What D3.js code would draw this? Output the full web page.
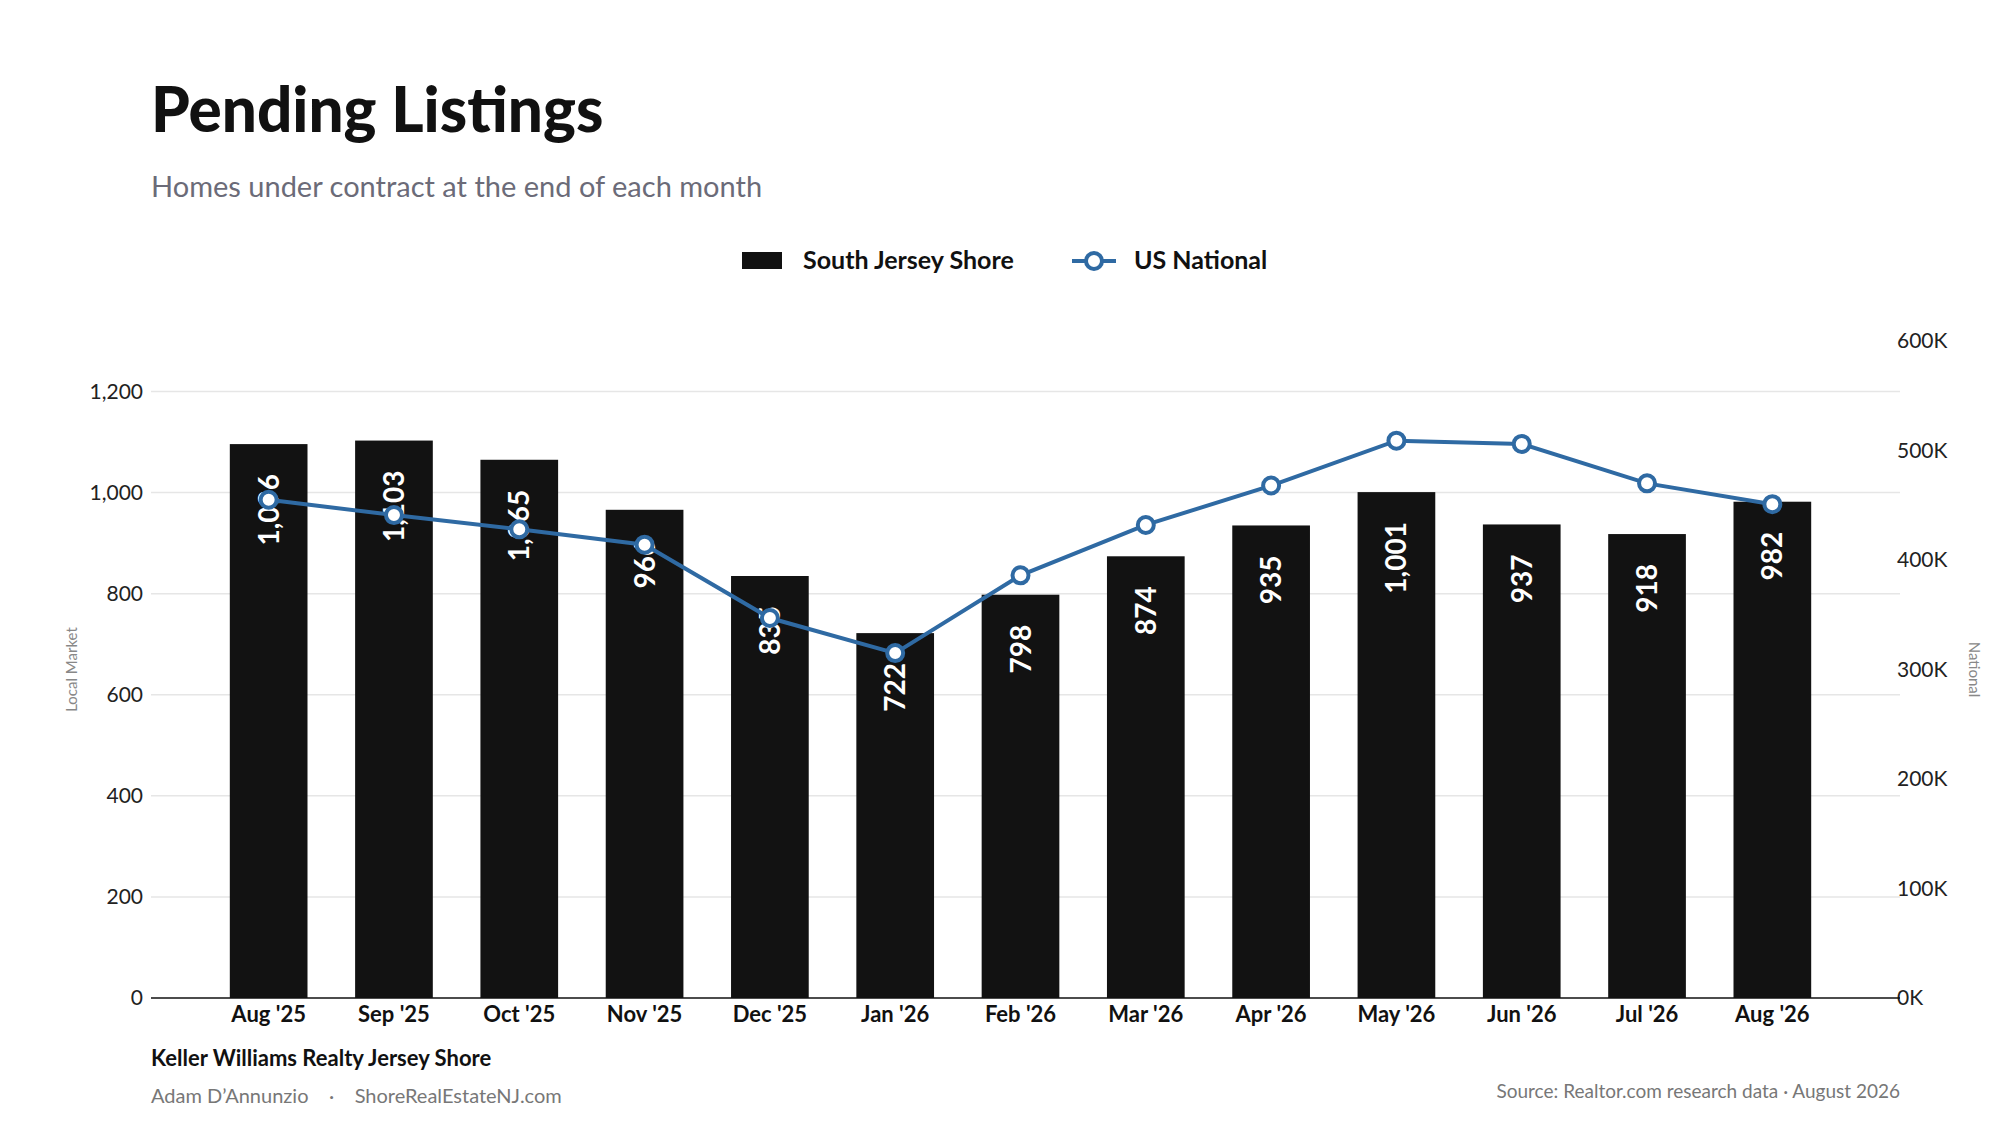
<!DOCTYPE html>
<html><head><meta charset="utf-8">
<script src="https://cdn.jsdelivr.net/npm/d3@7"></script>
<style>body{margin:0;background:#fff}text{font-family:"Lato","Open Sans",sans-serif}</style>
</head><body><svg id="c" width="2000" height="1125"></svg>
<script>
const months=["Aug '25","Sep '25","Oct '25","Nov '25","Dec '25","Jan '26","Feb '26","Mar '26","Apr '26","May '26","Jun '26","Jul '26","Aug '26"];
const local=[1096,1103,1065,966,835,722,798,874,935,1001,937,918,982];
const national=[455000,441000,428000,414000,347000,315000,386000,432000,468000,509000,506000,470000,451000];
const leftTicks=[0,200,400,600,800,1000,1200];
const rightTicks=[0,100000,200000,300000,400000,500000,600000];

const svg=d3.select("#c");
const L=151,R=1900,T=341,B=998;
const x=d3.scaleBand().domain(months).range([206,1835]).paddingInner(0.38).paddingOuter(0.19);
const yL=d3.scaleLinear().domain([0,1300]).range([B,T]);
const yR=d3.scaleLinear().domain([0,600000]).range([B,T]);
const blue="#2f6aa3";

svg.append("text").attr("x",151).attr("y",132).attr("font-size",62).attr("font-weight",900).attr("fill","#111").text("Pending Listings");
svg.append("text").attr("x",151).attr("y",197).attr("font-size",29).attr("fill","#6b6b78").text("Homes under contract at the end of each month");

// legend
svg.append("rect").attr("x",742).attr("y",252).attr("width",40).attr("height",17).attr("fill","#111");
svg.append("text").attr("x",803).attr("y",269).attr("font-size",25).attr("font-weight",700).attr("fill","#111").text("South Jersey Shore");
svg.append("line").attr("x1",1072).attr("x2",1116).attr("y1",261).attr("y2",261).attr("stroke",blue).attr("stroke-width",4);
svg.append("circle").attr("cx",1094).attr("cy",261).attr("r",8).attr("fill","#fff").attr("stroke",blue).attr("stroke-width",4);
svg.append("text").attr("x",1134).attr("y",269).attr("font-size",25).attr("font-weight",700).attr("fill","#111").text("US National");

// grid
svg.append("g").selectAll("line").data(leftTicks.slice(1)).join("line")
 .attr("x1",L).attr("x2",R).attr("y1",d=>yL(d)).attr("y2",d=>yL(d)).attr("stroke","#e6e6e6").attr("stroke-width",1.5);

// axes
const ga=svg.append("g").attr("transform",`translate(${L},0)`).call(d3.axisLeft(yL).tickValues(leftTicks).tickFormat(d3.format(",")).tickSize(0).tickPadding(8));
ga.select(".domain").remove();
ga.selectAll("text").attr("font-size",21).attr("fill","#222");
const gr=svg.append("g").attr("transform",`translate(${R},0)`).call(d3.axisRight(yR).tickValues(rightTicks).tickFormat(d=>d/1000+"K").tickSize(0).tickPadding(-3));
gr.select(".domain").remove();
gr.selectAll("text").attr("font-size",21).attr("fill","#222");

svg.append("text").attr("transform",`translate(77,${(T+B)/2}) rotate(-90)`).attr("text-anchor","middle").attr("font-size",15).attr("fill","#888").text("Local Market");
svg.append("text").attr("transform",`translate(1969,${(T+B)/2}) rotate(90)`).attr("text-anchor","middle").attr("font-size",15).attr("fill","#888").text("National");

// bars
svg.append("g").selectAll("rect").data(local).join("rect")
 .attr("x",(d,i)=>x(months[i])).attr("width",x.bandwidth()).attr("y",d=>yL(d)).attr("height",d=>B-yL(d)).attr("fill","#121212");
svg.append("g").selectAll("text").data(local).join("text")
 .attr("transform",(d,i)=>`translate(${x(months[i])+x.bandwidth()/2+10},${yL(d)+30}) rotate(-90)`)
 .attr("text-anchor","end").attr("font-size",28).attr("font-weight",700).attr("fill","#fff").text(d=>d3.format(",")(d));

const gx=svg.append("g").attr("transform",`translate(0,${B})`).call(d3.axisBottom(x).tickSize(0).tickPadding(8));
gx.select(".domain").attr("d",`M${L},0H${R}`).attr("stroke","#111").attr("stroke-width",1.5);
gx.selectAll("text").attr("font-size",22).attr("font-weight",700).attr("fill","#111");

// line
const cx=i=>x(months[i])+x.bandwidth()/2;
svg.append("path").datum(national).attr("fill","none").attr("stroke",blue).attr("stroke-width",4)
 .attr("d",d3.line().x((d,i)=>cx(i)).y(d=>yR(d)));
svg.append("g").selectAll("circle").data(national).join("circle")
 .attr("cx",(d,i)=>cx(i)).attr("cy",d=>yR(d)).attr("r",8).attr("fill","#fff").attr("stroke",blue).attr("stroke-width",4);

// footer
svg.append("text").attr("x",151).attr("y",1066).attr("font-size",22).attr("font-weight",700).attr("fill","#111").text("Keller Williams Realty Jersey Shore");
svg.append("text").attr("x",151).attr("y",1103).attr("font-size",20).attr("fill","#777").attr("xml:space","preserve").text("Adam D’Annunzio    ·    ShoreRealEstateNJ.com");
svg.append("text").attr("x",1900).attr("y",1098).attr("text-anchor","end").attr("font-size",19).attr("fill","#777").text("Source: Realtor.com research data · August 2026");
</script></body></html>
